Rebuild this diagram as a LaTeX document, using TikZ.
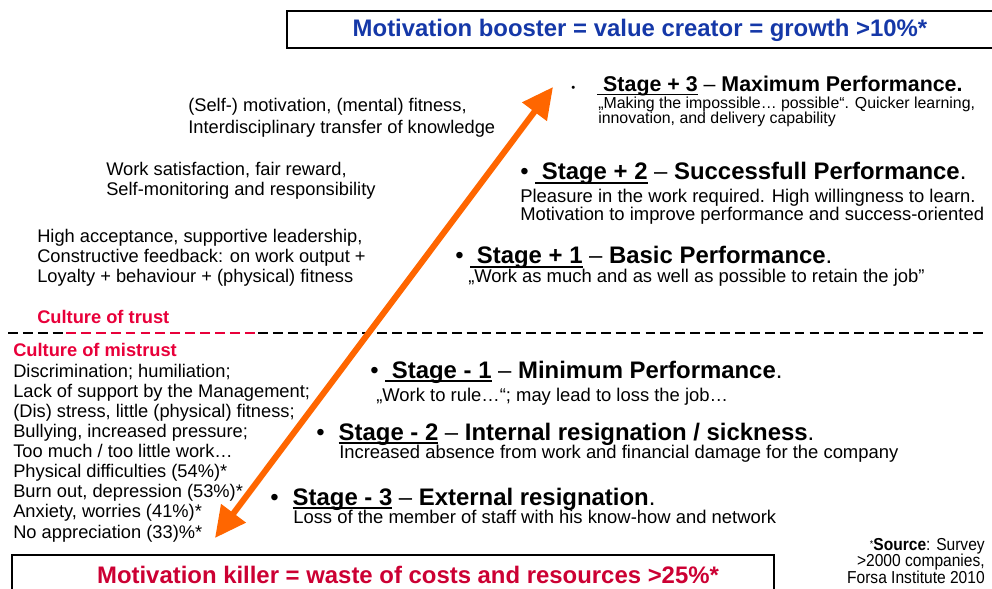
\documentclass[tikz,border=0pt]{standalone}
\usepackage{fontspec}
\setmainfont{Liberation Sans}
\newfontfamily\narrowfont[FakeStretch=0.9]{Liberation Sans}
\usepackage{xcolor}
\usetikzlibrary{arrows.meta,positioning}
\definecolor{boostblue}{HTML}{1538A8}
\definecolor{killred}{HTML}{CC0033}
\definecolor{trustred}{HTML}{E8003A}
\definecolor{groworange}{HTML}{FF6600}

% thick underline for the stage names
\newcommand{\stul}[1]{\setbox0=\hbox{#1}\rlap{\rule[-0.16em]{\wd0}{0.08em}}\box0\relax}

\begin{document}
% multi-line nodes sit on the baseline of their last line
\begin{tikzpicture}[x=0.025cm,y=-0.025cm,
  body/.style={anchor=base west,inner sep=0pt,align=left,
               font=\fontsize{13}{14.3}\selectfont},
  culture/.style={anchor=base west,inner sep=0pt,text=trustred,
               font=\fontsize{13}{14.3}\selectfont\bfseries},
  stagehead/.style={anchor=base west,inner sep=0pt,
               font=\fontsize{17}{20}\selectfont},
  stagetext/.style={anchor=base west,inner sep=0pt,align=left,
               font=\fontsize{13.1}{13.5}\selectfont},
  banner/.style={anchor=base,inner sep=0pt,font=\fontsize{17}{20}\selectfont\bfseries},
  boxline/.style={draw,line width=1.3pt},
  divider/.style={line width=1pt,dash pattern=on 7pt off 3.6pt},
  growarrow/.style={groworange,line width=4.3pt,
               {Triangle[length=22pt,width=21pt]}-{Triangle[length=22pt,width=21pt]}}]
  \useasboundingbox (0,0) rectangle (992,589);

  % banners
  \draw[boxline] (287,11) rectangle (996,48);
  \node[banner,text=boostblue] (boost) at (640,37)
    {Motivation booster = value creator = growth >10\%*};
  \draw[boxline] (12,555) rectangle (774,595);
  \node[banner,text=killred] (kill) at (408,583)
    {Motivation killer = waste of costs and resources >25\%*};
  \node[anchor=base east,inner sep=0pt,align=right,
        font=\narrowfont\fontsize{12.3}{11.5}\selectfont] (source) at (985,583)
    {{\fontsize{7}{7}\selectfont\raisebox{.35em}{*}}\textbf{Source}: Survey\\
     >2000 companies,\\Forsa Institute 2010};

  % left column
  \node[body] (motiv) at (188,134)
    {(Self-) motivation, (mental) fitness,\\[1.5pt]Interdisciplinary transfer of knowledge};
  \node[body] (satisf) at (106,196)
    {Work satisfaction, fair reward,\\Self-monitoring and responsibility};
  \node[body] (accept) at (37,283)
    {High acceptance, supportive leadership,\\Constructive feedback: on work output +\\
     Loyalty + behaviour + (physical) fitness};
  \node[culture] (trust) at (37,324) {Culture of trust};
  \node[culture] (mistrust) at (13,357) {Culture of mistrust};
  \node[body] (woes) at (13,538)
    {Discrimination; humiliation;\\Lack of support by the Management;\\
     (Dis) stress, little (physical) fitness;\\Bullying, increased pressure;\\
     Too much / too little work\dots\\Physical difficulties (54\%)*\\
     Burn out, depression (53\%)*\\Anxiety, worries (41\%)*\\No appreciation (33)\%*};

  % trust / mistrust border
  \coordinate (dl1) at (8,333);
  \coordinate (dl2) at (66,333);
  \coordinate (dl3) at (258,333);
  \coordinate (dl4) at (985,333);
  \draw[divider] (dl1) -- (dl2);
  \draw[divider,trustred] (dl2) -- (dl3);
  \draw[divider] (dl3) -- (dl4);

  % stages
  \node[stagehead,font=\fontsize{15.2}{18}\selectfont] (s3) at (571,92)
    {\makebox[18.5pt][l]{\fontsize{8}{8}\selectfont\textbullet}\stul{\textbf{\ Stage + 3}} --
     \textbf{Maximum Performance.}};
  \node[stagetext,font=\fontsize{11.3}{10.8}\selectfont] (s3txt) at (598,124)
    {„Making the impossible… possible“. Quicker learning,\\innovation, and delivery capability};
  \node[stagehead] (s2) at (520,180)
    {\textbullet\ \stul{\textbf{\ Stage + 2}} -- \textbf{Successfull Performance}.};
  \node[stagetext] (s2txt) at (520,221)
    {Pleasure in the work required. High willingness to learn.\\
     Motivation to improve performance and success-oriented};
  \node[stagehead] (s1) at (455,264)
    {\textbullet\ \stul{\textbf{\ Stage + 1}} -- \textbf{Basic Performance}.};
  \node[stagetext] (s1txt) at (468,283)
    {„Work as much and as well as possible to retain the job"};
  \node[stagehead] (m1) at (370,378)
    {\textbullet\ \stul{\textbf{\ Stage - 1}} -- \textbf{Minimum Performance}.};
  \node[stagetext] (m1txt) at (376,402)
    {„Work to rule…“; may lead to loss the job…};
  \node[stagehead] (m2) at (316,440)
    {\textbullet\hspace{10pt}\stul{\textbf{Stage - 2}} -- \textbf{Internal resignation / sickness}.};
  \node[stagetext] (m2txt) at (339,458)
    {Increased absence from work and financial damage for the company};
  \node[stagehead] (m3) at (270,505)
    {\textbullet\hspace{10pt}\stul{\textbf{Stage - 3}} -- \textbf{External resignation}.};
  \node[stagetext] (m3txt) at (293,523)
    {Loss of the member of staff with his know-how and network};

  % growth arrow
  \coordinate (low) at (215,538);
  \coordinate (high) at (553,87);
  \draw[growarrow] (low) -- (high);
\end{tikzpicture}
\end{document}
